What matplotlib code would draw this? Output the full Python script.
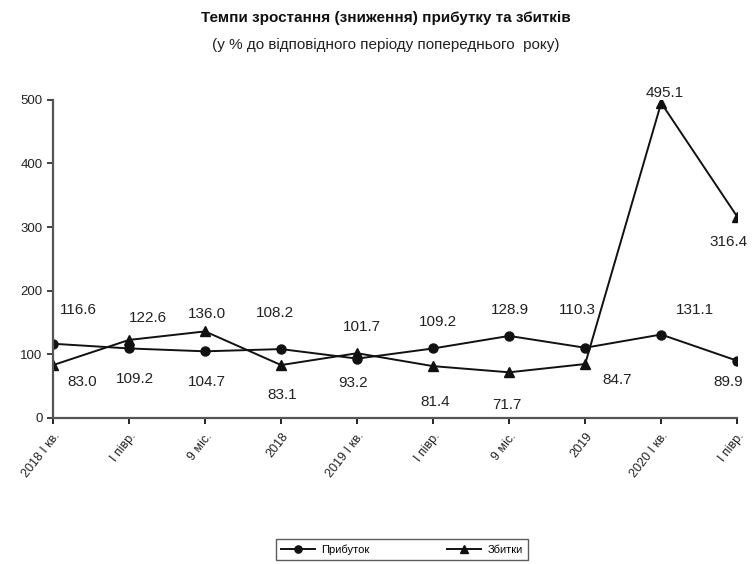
import matplotlib.pyplot as plt

plt.rcParams['font.family'] = ['Liberation Sans', 'DejaVu Sans']

periods = ["2018 I кв.", "I півр.", "9 міс.", "2018", "2019 I кв.",
           "I півр.", "9 міс.", "2019", "2020 I кв.", "I півр."]
profit = [116.6, 109.2, 104.7, 108.2, 93.2, 109.2, 128.9, 110.3, 131.1, 89.9]
losses = [83.0, 122.6, 136.0, 83.1, 101.7, 81.4, 71.7, 84.7, 495.1, 316.4]

# label offsets in pixels (dx, dy), dy positive = up
profit_off = [(25, 34), (6, -31), (2, -31), (-6, 36), (-4, -24),
              (5, 26), (1, 26), (-8, 38), (34, 25), (-9, -21)]
losses_off = [(29, -17), (19, 22), (2, 17), (1, -30), (5, 26),
              (2, -36), (-2, -33), (32, -16), (4, 10), (-9, -25)]

fig = plt.figure(figsize=(7.53, 5.64), dpi=100)
ax = fig.add_axes([0.0704, 0.259, 0.9086, 0.564])

x = list(range(len(periods)))
ax.plot(x, profit, color='#111111', lw=1.4, marker='o', ms=6.5, label='Прибуток')
ax.plot(x, losses, color='#111111', lw=1.4, marker='^', ms=6.5, label='Збитки')

for i in x:
    ax.annotate(f"{profit[i]:.1f}", (i, profit[i]), xytext=profit_off[i],
                textcoords='offset pixels', ha='center', va='center',
                fontsize=11, color='#222222')
    ax.annotate(f"{losses[i]:.1f}", (i, losses[i]), xytext=losses_off[i],
                textcoords='offset pixels', ha='center', va='center',
                fontsize=11, color='#222222')

ax.set_xlim(0, len(periods) - 1)
ax.set_ylim(0, 500)
ax.set_yticks(range(0, 501, 100))
ax.set_xticks(x)
ax.set_xticklabels(periods, rotation=52, ha='right', rotation_mode='anchor',
                   fontsize=9, color='#222222')
ax.tick_params(axis='y', labelsize=9.5, colors='#222222', length=4, width=1.2)
ax.tick_params(axis='x', length=4, width=1.2, direction='out', pad=5)
for s in ['top', 'right']:
    ax.spines[s].set_visible(False)
for s in ['left', 'bottom']:
    ax.spines[s].set_color('#555555')
    ax.spines[s].set_linewidth(1.6)

fig.text(0.512, 0.968, "Темпи зростання (зниження) прибутку та збитків",
         ha='center', va='center', fontsize=11, fontweight='bold', color='#111111')
fig.text(0.512, 0.92, "(у % до відповідного періоду попереднього  року)",
         ha='center', va='center', fontsize=11, color='#222222')

leg = fig.legend(loc='center', bbox_to_anchor=(0.534, 0.026), ncol=2,
                 fontsize=8, frameon=True, fancybox=False, edgecolor='#333333',
                 handlelength=3, columnspacing=7, borderpad=0.5,
                 markerscale=0.8, handletextpad=0.6, borderaxespad=0)
leg.get_frame().set_linewidth(1.0)

fig.savefig('out.png', dpi=100)
